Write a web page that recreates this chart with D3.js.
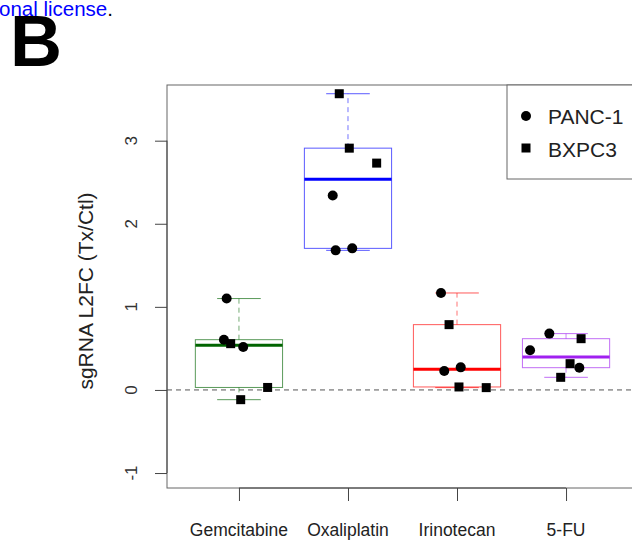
<!DOCTYPE html>
<html>
<head>
<script src="https://d3js.org/d3.v7.min.js"></script>
<style>
  body { margin: 0; background: #fff; }
  text { font-family: "Liberation Sans", Arial, sans-serif; }
</style>
</head>
<body>
<svg width="632" height="540"></svg>
<script>
// data
const drugs = ["Gemcitabine", "Oxaliplatin", "Irinotecan", "5-FU"];
const yTicks = [-1, 0, 1, 2, 3];
const panc1 = [[0.605, 1.10, 0.517], [2.34, 1.68, 1.704], [1.167, 0.229, 0.272], [0.678, 0.477, 0.268]];
const bxpc3 = [[0.557, -0.117, 0.03], [3.565, 2.91, 2.73], [0.786, 0.036, 0.028], [0.617, 0.316, 0.152]];
// horizontal jitter of each point, in category units
const pancJitter = [[-0.138, -0.113, 0.039], [-0.14, -0.113, 0.039], [-0.147, -0.117, 0.034], [-0.153, -0.33, 0.122]];
const bxpcJitter = [[-0.076, 0.016, 0.263], [-0.08, 0.012, 0.263], [-0.073, 0.018, 0.268], [0.138, 0.037, -0.049]];
const boxColors = ["#006400", "#0000ff", "#ff0000", "#a020f0"];

const svg = d3.select("svg");
svg.append("rect").attr("width", 632).attr("height", 540).attr("fill", "#fff");

const x = d3.scaleLinear().domain([0.34, 4.66]).range([167, 638]);
const y = d3.scaleLinear().domain([-1.18, 3.67]).range([488, 85]);

// R style fivenum (Tukey hinges)
function fivenum(vals) {
  const s = vals.slice().sort((a, b) => a - b), n = s.length;
  const n4 = Math.floor((n + 3) / 2) / 2;
  const d = [1, n4, (n + 1) / 2, n + 1 - n4, n];
  return d.map(k => 0.5 * (s[Math.floor(k) - 1] + s[Math.ceil(k) - 1]));
}

// dashed zero line
svg.append("line")
  .attr("x1", x(0.34)).attr("x2", 632)
  .attr("y1", y(0)).attr("y2", y(0))
  .attr("stroke", "#555").attr("stroke-dasharray", "5 4");

// boxes
drugs.forEach((d, i) => {
  const c = boxColors[i], cx = i + 1;
  const vals = panc1[i].concat(bxpc3[i]);
  const f = fivenum(vals);
  const iqr = f[3] - f[1];
  const hi = d3.max(vals.filter(v => v <= f[3] + 1.5 * iqr));
  const lo = d3.min(vals.filter(v => v >= f[1] - 1.5 * iqr));
  const g = svg.append("g");

  g.append("line").attr("x1", x(cx)).attr("x2", x(cx)).attr("y1", y(f[3])).attr("y2", y(hi))
    .attr("stroke", c).attr("stroke-opacity", 0.55).attr("stroke-dasharray", "5 4");
  g.append("line").attr("x1", x(cx)).attr("x2", x(cx)).attr("y1", y(f[1])).attr("y2", y(lo))
    .attr("stroke", c).attr("stroke-opacity", 0.55).attr("stroke-dasharray", "5 4");
  [hi, lo].forEach(v => {
    g.append("line").attr("x1", x(cx - 0.2)).attr("x2", x(cx + 0.2)).attr("y1", y(v)).attr("y2", y(v))
      .attr("stroke", c).attr("stroke-opacity", 0.65);
  });
  g.append("rect")
    .attr("x", x(cx - 0.4)).attr("width", x(cx + 0.4) - x(cx - 0.4))
    .attr("y", y(f[3])).attr("height", y(f[1]) - y(f[3]))
    .attr("fill", "none").attr("stroke", c).attr("stroke-opacity", 0.65);
  g.append("line").attr("x1", x(cx - 0.4)).attr("x2", x(cx + 0.4)).attr("y1", y(f[2])).attr("y2", y(f[2]))
    .attr("stroke", c).attr("stroke-width", 3);
});

// points
drugs.forEach((d, i) => {
  panc1[i].forEach((v, j) => {
    svg.append("circle").attr("cx", x(i + 1 + pancJitter[i][j])).attr("cy", y(v)).attr("r", 5).attr("fill", "#000");
  });
  bxpc3[i].forEach((v, j) => {
    svg.append("rect").attr("x", x(i + 1 + bxpcJitter[i][j]) - 4.5).attr("y", y(v) - 4.5)
      .attr("width", 9).attr("height", 9).attr("fill", "#000");
  });
});

// frame
svg.append("rect").attr("x", 167).attr("y", 85).attr("width", 471).attr("height", 403)
  .attr("fill", "none").attr("stroke", "#666");

// y axis
const ya = svg.append("g").attr("transform", "translate(167,0)")
  .call(d3.axisLeft(y).tickValues(yTicks).tickSize(12).tickPadding(0).tickFormat(""));
ya.select(".domain").attr("d", `M0,${y(-1)}V${y(3)}`).attr("stroke", "#444");
ya.selectAll(".tick line").attr("stroke", "#444");
yTicks.forEach(t => {
  svg.append("text").attr("transform", `translate(137,${y(t)}) rotate(-90)`)
    .attr("text-anchor", "middle").attr("font-size", 17).attr("fill", "#333").text(t);
});

// x axis
const xa = svg.append("g").attr("transform", "translate(0,488)")
  .call(d3.axisBottom(x).tickValues([1, 2, 3, 4]).tickSize(13).tickFormat(""));
xa.select(".domain").attr("d", `M${x(1)},0H${x(4)}`).attr("stroke", "#444");
xa.selectAll(".tick line").attr("stroke", "#444");
drugs.forEach((d, i) => {
  svg.append("text").attr("x", x(i + 1)).attr("y", 536).attr("text-anchor", "middle")
    .attr("font-size", 17.5).attr("fill", "#222").text(d);
});

// y title
svg.append("text").attr("transform", "translate(93,291) rotate(-90)")
  .attr("text-anchor", "middle").attr("font-size", 21).attr("fill", "#222").text("sgRNA L2FC (Tx/Ctl)");

// legend
const lg = svg.append("g");
lg.append("rect").attr("x", 507).attr("y", 85).attr("width", 140).attr("height", 94)
  .attr("fill", "#fff").attr("stroke", "#666");
lg.append("circle").attr("cx", 526).attr("cy", 116).attr("r", 5).attr("fill", "#000");
lg.append("rect").attr("x", 521.5).attr("y", 143.5).attr("width", 9).attr("height", 9).attr("fill", "#000");
lg.append("text").attr("x", 548).attr("y", 124).attr("font-size", 21).attr("fill", "#222").text("PANC-1");
lg.append("text").attr("x", 548).attr("y", 156.5).attr("font-size", 21).attr("fill", "#222").text("BXPC3");

// clipped caption above, then panel letter on top of it
const cap = svg.append("text").attr("x", -1).attr("y", 16).attr("font-size", 20.5);
cap.append("tspan").attr("fill", "#0000ff").text("onal license");
cap.append("tspan").attr("fill", "#000").text(".");
svg.append("text").attr("x", 10).attr("y", 66).attr("font-size", 72).attr("font-weight", "bold").text("B");
</script>
</body>
</html>
